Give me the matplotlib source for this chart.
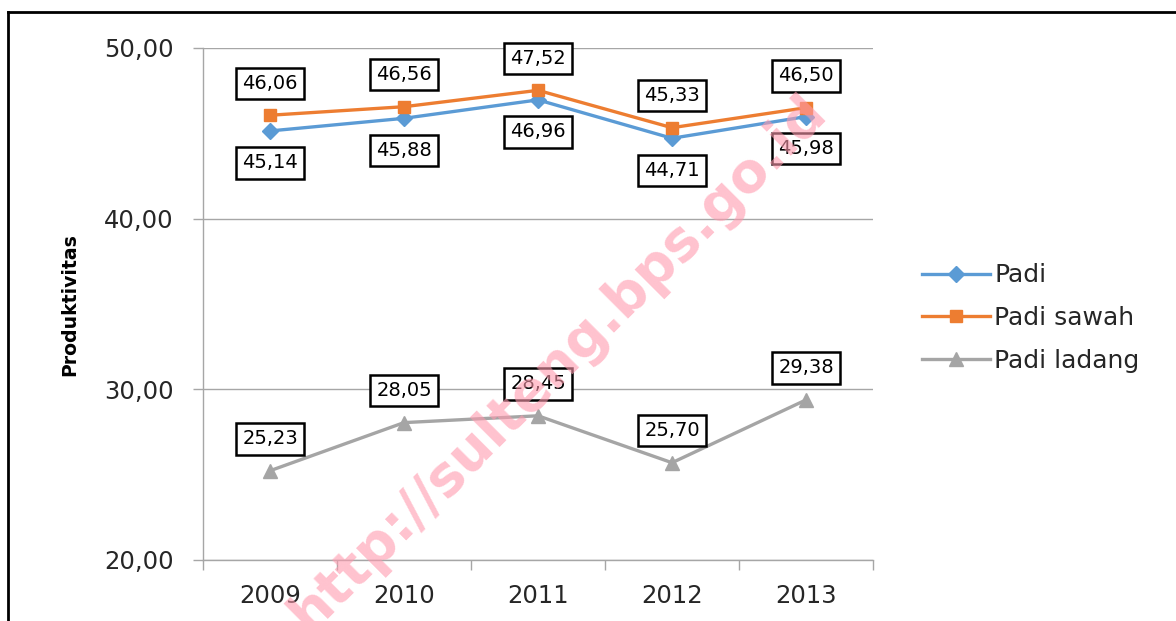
import numpy as np
import matplotlib
matplotlib.use("Agg")
import matplotlib.pyplot as plt
from matplotlib.lines import Line2D

# ── data ──────────────────────────────────────────────────────────────────────
years = ["2009", "2010", "2011", "2012", "2013"]
padi = [45.14, 45.88, 46.96, 44.71, 45.98]
padi_sawah = [46.06, 46.56, 47.52, 45.33, 46.50]
padi_ladang = [25.23, 28.05, 28.45, 25.70, 29.38]
y_ticks = [20, 30, 40, 50]

C_BLUE, C_ORANGE, C_GRAY = "#5B9BD5", "#ED7D31", "#A5A5A5"
GRID = "#A6A6A6"
TXT = "#262626"

fmt = lambda v: f"{v:.2f}".replace(".", ",")

fig = plt.figure(figsize=(11.76, 6.21), dpi=100)
ax = fig.add_axes([203/1176, 1-560/621, 670/1176, 512/621])

x = np.arange(len(years))
series = [
    (padi, "Padi", C_BLUE, "D", 8, -23),
    (padi_sawah, "Padi sawah", C_ORANGE, "s", 8, 23),
    (padi_ladang, "Padi ladang", C_GRAY, "^", 10, 23),
]
for vals, name, col, mk, ms, off in series:
    ax.plot(x, vals, color=col, lw=2.4, marker=mk, ms=ms, mec=col, mfc=col,
            label=name, zorder=3)
    for xi, v in zip(x, vals):
        ax.annotate(fmt(v), (xi, v), xytext=(0, off), textcoords="offset points",
                    ha="center", va="center", fontsize=14, color="black",
                    bbox=dict(boxstyle="square,pad=0.32", fc="white", ec="black", lw=1.8),
                    zorder=4)

ax.set_xlim(-0.5, len(years) - 0.5)
ax.set_ylim(20, 50)
ax.set_yticks(y_ticks)
ax.set_yticklabels([fmt(v) for v in y_ticks], fontsize=17.5, color=TXT)
ax.set_xticks(x)
ax.set_xticklabels(years, fontsize=17.5, color=TXT)
ax.set_xticks(np.arange(-0.5, len(years)), minor=True)
ax.tick_params(axis="x", which="major", length=0, pad=17)
ax.tick_params(axis="x", which="minor", length=7, width=1, color=GRID, direction="out")
ax.tick_params(axis="y", length=7, width=1, color=GRID, pad=14)
ax.grid(axis="y", color=GRID, lw=1)
ax.set_axisbelow(True)
for s in ["top", "right"]:
    ax.spines[s].set_visible(False)
for s in ["left", "bottom"]:
    ax.spines[s].set_color(GRID)
    ax.spines[s].set_linewidth(1)

fig.text(70/1176, 1-305/621, "Produktivitas", rotation=90, ha="center", va="center",
         fontsize=13.6, fontweight="bold", color="black")

fig.legend(loc="center left", bbox_to_anchor=(922/1176, 1-318/621), frameon=False,
           fontsize=18, handlelength=2.7, handletextpad=0.2, labelspacing=0.75,
           borderpad=0, borderaxespad=0, labelcolor=TXT)

# outer frame (top and left edges visible)
fig.add_artist(Line2D([8/1176, 1], [1-12/621, 1-12/621], color="black", lw=2,
                      transform=fig.transFigure))
fig.add_artist(Line2D([8/1176, 8/1176], [0, 1-12/621], color="black", lw=2,
                      transform=fig.transFigure))

# watermark
fig.text(558/1176, 1-363/621, "http://sulteng.bps.go.id", rotation=45,
         rotation_mode="anchor", ha="center", va="center", fontsize=39.5,
         fontweight="bold", color="#ff9aae", alpha=0.6, zorder=10)

fig.savefig("out.png", dpi=100)
